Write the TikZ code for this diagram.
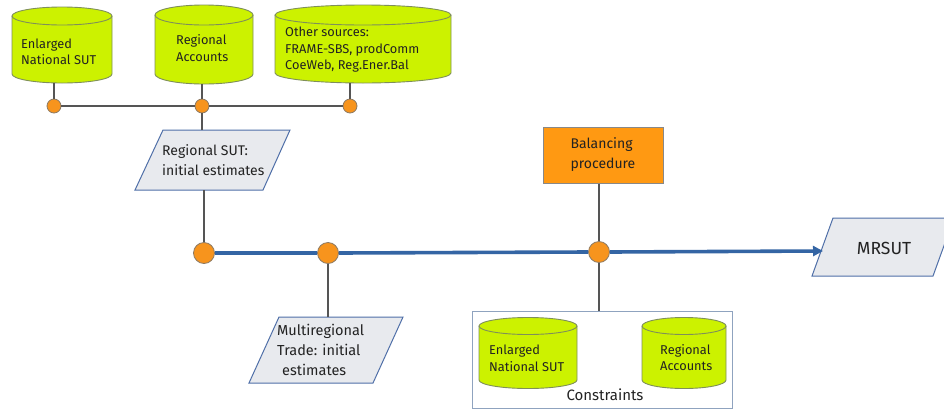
\documentclass[tikz,border=0pt]{standalone}
\usepackage{fontspec}
\setmainfont{Fira Sans}
\usetikzlibrary{arrows.meta}
\definecolor{limefill}{HTML}{CCF200}
\definecolor{cylborder}{HTML}{7F8F5A}
\definecolor{dotfill}{HTML}{F7941D}
\definecolor{dotborder}{HTML}{8C7A64}
\definecolor{balfill}{HTML}{FF9912}
\definecolor{parafill}{HTML}{E8EAEE}
\definecolor{paraborder}{HTML}{4F6FA8}
\definecolor{blueline}{HTML}{3465A4}
\definecolor{grayline}{HTML}{555555}
\definecolor{consborder}{HTML}{8FA3BF}
\definecolor{txtcol}{HTML}{222222}
\newcommand{\fsz}[2]{\fontsize{#1}{#2}\selectfont}
% #1 name, #2 cx, #3 half width, #4 y top-ellipse centre, #5 y bottom-ellipse centre, #6 ry, #7 text x, #8 text y, #9 text
\newcommand{\mycyl}[9]{%
  \fill[limefill] (#2-#3,-#4) -- (#2-#3,-#5) arc[start angle=180,end angle=360,x radius=#3pt,y radius=#6pt] -- (#2+#3,-#4) arc[start angle=0,end angle=180,x radius=#3pt,y radius=#6pt] -- cycle;
  \draw[cylline] (#2-#3,-#4) -- (#2-#3,-#5) arc[start angle=180,end angle=360,x radius=#3pt,y radius=#6pt] -- (#2+#3,-#4);
  \draw[cylline] (#2,-#4) ellipse[x radius=#3pt,y radius=#6pt];
  \node[cylbody, minimum width={2*#3pt}, minimum height={(#5-#4+2*#6)*1pt}] (#1) at ({#2},{-(#4+#5)/2}) {};
  \node[cyltxt] (#1-t) at (#7,-#8) {#9};
}
\begin{document}
\begin{tikzpicture}[x=1pt,y=1pt,
  cylline/.style={draw=cylborder, line width=0.9pt},
  cylbody/.style={inner sep=0pt, outer sep=0pt, rectangle},
  cyltxt/.style={inner sep=0pt, align=left, anchor=west, text=txtcol, font=\fsz{12.8}{16.5}},
  sdot/.style={circle, inner sep=0pt, minimum size=14pt, fill=dotfill, draw=dotborder, line width=0.8pt},
  bdot/.style={circle, inner sep=0pt, minimum size=21pt, fill=dotfill, draw=dotborder, line width=0.8pt},
  conn/.style={draw=grayline, line width=1.3pt},
  bconn/.style={draw=blueline, line width=3.6pt},
  para/.style={fill=parafill, draw=paraborder, line width=1pt},
  ptxt/.style={inner sep=0pt, align=left, anchor=west, text=txtcol},
  balbox/.style={rectangle, fill=balfill, draw=grayline!70, line width=1pt, minimum width=120pt, minimum height=56pt, inner sep=0pt, align=left, text=txtcol, font=\fsz{14}{20}},
  consbox/.style={rectangle, draw=consborder, line width=1pt, minimum width=260pt, minimum height=97pt, inner sep=0pt}
]
\useasboundingbox (0,0) rectangle (944,-410);
\fill[white] (0,0) rectangle (944,-410);

% top cylinders
\mycyl{cylA}{62}{50}{16}{74}{9}{21}{52}{Enlarged\\National SUT}
\mycyl{cylB}{204}{49}{15}{74}{10}{176}{48}{Regional\\Accounts}
\mycyl{cylC}{363}{88}{15}{73}{10}{285}{50}{Other sources:\\FRAME-SBS, prodComm\\CoeWeb, Reg.Ener.Bal}

% small dots
\node[sdot] (d1) at (54,-106) {};
\node[sdot] (d2) at (202,-106) {};
\node[sdot] (d3) at (350,-106) {};

% Regional SUT parallelogram
\draw[para] (135,-190) -- (163,-130) -- (290,-130) -- (263,-190) -- cycle;
\coordinate (rsutTop) at (202,-130);
\coordinate (rsutBot) at (204,-190);
\node[ptxt, font=\fsz{14}{20}] (rsut) at (162,-160) {Regional SUT:\\initial estimates};

% big dots
\node[bdot] (b1) at (204,-253) {};
\node[bdot] (b2) at (328,-253) {};
\node[bdot] (b3) at (599,-252) {};

% MRSUT
\draw[para] (812,-276) -- (833,-218) -- (954,-218) -- (933,-276) -- cycle;
\coordinate (mrsutL) at (823,-251);
\node[ptxt, anchor=center, font=\fsz{17.5}{20}] (mrsut) at (884,-248) {MRSUT};

% Balancing procedure
\node[balbox] (bal) at (603,-155) {Balancing\\procedure};

% Multiregional trade parallelogram
\draw[para] (249,-383) -- (279,-317) -- (403,-317) -- (373,-383) -- cycle;
\coordinate (mrtTop) at (328,-317);
\node[ptxt, font=\fsz{14.5}{20}] (mrt) at (277,-350) {Multiregional\\Trade: initial\\\hspace*{5pt}estimates};

% Constraints box
\node[consbox] (cons) at (602,-359.5) {};
\mycyl{cylD}{528}{49}{326}{380}{8.5}{489}{358.5}{Enlarged\\National SUT}
\mycyl{cylE}{684}{42}{326}{380}{8.5}{660}{357.5}{Regional\\Accounts}
\node[ptxt, anchor=center, font=\fsz{15}{18}] (constxt) at (605,-395) {Constraints};

% connectors: top row
\draw[conn] (d1.east) -- (d2.west);
\draw[conn] (d2.east) -- (d3.west);
\draw[conn] (cylA.south -| d1) -- (d1.north);
\draw[conn] (cylB.south -| d2) -- (d2.north);
\draw[conn] (cylC.south -| d3) -- (d3.north);
\draw[conn] (d2.south) -- (rsutTop);
\draw[conn] (rsutBot) -- (b1.north);
\draw[conn] (b2.south) -- (mrtTop);
\draw[conn] (bal.south -| b3) -- (b3.north);
\draw[conn] (b3.south) -- (b3.south |- cons.north);

% blue main line
\draw[bconn] (b1.east) -- (b2.west);
\draw[bconn] (b2.east) -- (b3.west);
\draw[bconn, -{Triangle[length=10pt,width=10pt]}] (b3.east) -- (mrsutL);
\end{tikzpicture}
\end{document}
